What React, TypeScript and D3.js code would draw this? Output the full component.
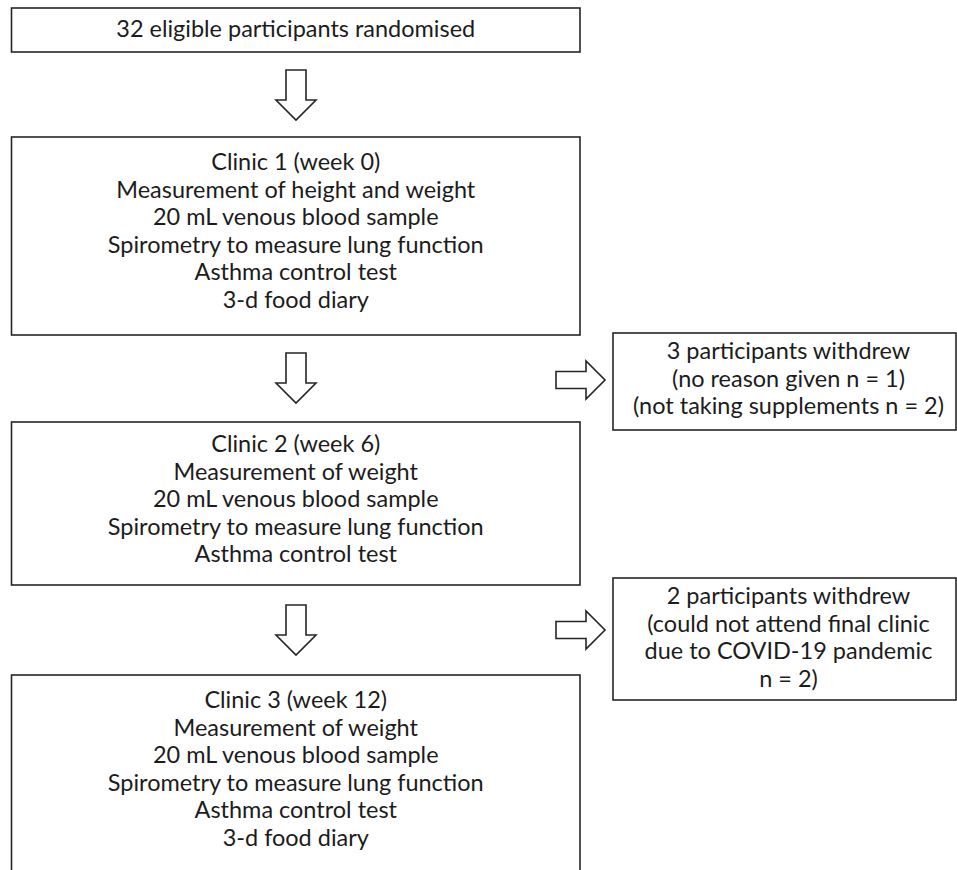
import { useEffect, useRef } from "react"
import * as d3 from "d3"

// text of every box, top to bottom
const randomised = ["32 eligible participants randomised"]
const clinic1 = [
  "Clinic 1 (week 0)",
  "Measurement of height and weight",
  "20 mL venous blood sample",
  "Spirometry to measure lung function",
  "Asthma control test",
  "3-d food diary",
]
const clinic2 = [
  "Clinic 2 (week 6)",
  "Measurement of weight",
  "20 mL venous blood sample",
  "Spirometry to measure lung function",
  "Asthma control test",
]
const clinic3 = [
  "Clinic 3 (week 12)",
  "Measurement of weight",
  "20 mL venous blood sample",
  "Spirometry to measure lung function",
  "Asthma control test",
  "3-d food diary",
]
const withdrew1 = ["3 participants withdrew", "(no reason given n = 1)", "(not taking supplements n = 2)"]
const withdrew2 = ["2 participants withdrew", "(could not attend final clinic", "due to COVID-19 pandemic", "n = 2)"]

const width = 957
const height = 870

export default function App() {
  const ref = useRef<SVGSVGElement>(null)

  useEffect(() => {
    const svg = d3.select(ref.current)
    svg.selectAll("*").remove()

    const font = "Lato, 'Open Sans', sans-serif"
    const lineH = 27.5

    // fit font size so the widest clinic line is ~376px like the reference
    const probe = svg.append("text").attr("font-family", font).attr("font-size", 20)
      .text("Spirometry to measure lung function")
    const w20 = (probe.node() as SVGTextElement).getComputedTextLength()
    probe.remove()
    const fs = (20 * 376) / w20

    const leftCol = { x0: 11.5, x1: 580 }
    const rightCol = { x0: 613, x1: 956 }

    const boxes = [
      { lines: randomised, col: leftCol, y0: 8, y1: 52, first: 37 },
      { lines: clinic1, col: leftCol, y0: 137, y1: 335, first: 170 },
      { lines: clinic2, col: leftCol, y0: 422, y1: 585, first: 452 },
      { lines: clinic3, col: leftCol, y0: 675, y1: 890, first: 708 },
      { lines: withdrew1, col: rightCol, y0: 333, y1: 430, first: 359 },
      { lines: withdrew2, col: rightCol, y0: 578, y1: 700, first: 604 },
    ]

    const g = svg.append("g")

    boxes.forEach(b => {
      g.append("rect")
        .attr("x", b.col.x0).attr("y", b.y0)
        .attr("width", b.col.x1 - b.col.x0).attr("height", b.y1 - b.y0)
        .attr("fill", "#fff").attr("stroke", "#262626").attr("stroke-width", 1.6)

      const cx = (b.col.x0 + b.col.x1) / 2 + (b.col === rightCol ? 4 : 0)
      g.append("g").selectAll("text")
        .data(b.lines)
        .enter().append("text")
        .attr("x", cx)
        .attr("y", (d, i) => b.first + i * lineH)
        .attr("text-anchor", "middle")
        .attr("font-family", font)
        .attr("font-size", fs)
        .attr("fill", "#1c1c1c")
        .text(d => d)
    })

    // block arrows
    const down = (cx: number, top: number) => {
      const sw = 10, hw = 20, sl = 30, hl = 20
      return d3.line()([
        [cx - sw, top], [cx + sw, top], [cx + sw, top + sl], [cx + hw, top + sl],
        [cx, top + sl + hl], [cx - hw, top + sl], [cx - sw, top + sl],
      ]) + "Z"
    }
    const right = (left: number, cy: number) => {
      const sh = 8.5, hh = 19, sl = 30, hl = 19
      return d3.line()([
        [left, cy - sh], [left + sl, cy - sh], [left + sl, cy - hh], [left + sl + hl, cy],
        [left + sl, cy + hh], [left + sl, cy + sh], [left, cy + sh],
      ]) + "Z"
    }

    const arrows = [
      down(296, 70),
      down(296, 353),
      down(296, 605),
      right(556, 380),
      right(556, 630),
    ]
    g.selectAll("path.arrow")
      .data(arrows)
      .enter().append("path")
      .attr("class", "arrow")
      .attr("d", d => d)
      .attr("fill", "#fff")
      .attr("stroke", "#262626")
      .attr("stroke-width", 1.6)
      .attr("stroke-linejoin", "miter")
  }, [])

  return (
    <div style={{ position: "absolute", left: 0, top: 0 }}>
      <svg ref={ref} width={width} height={height} style={{ display: "block", background: "#fff" }}></svg>
    </div>
  )
}
